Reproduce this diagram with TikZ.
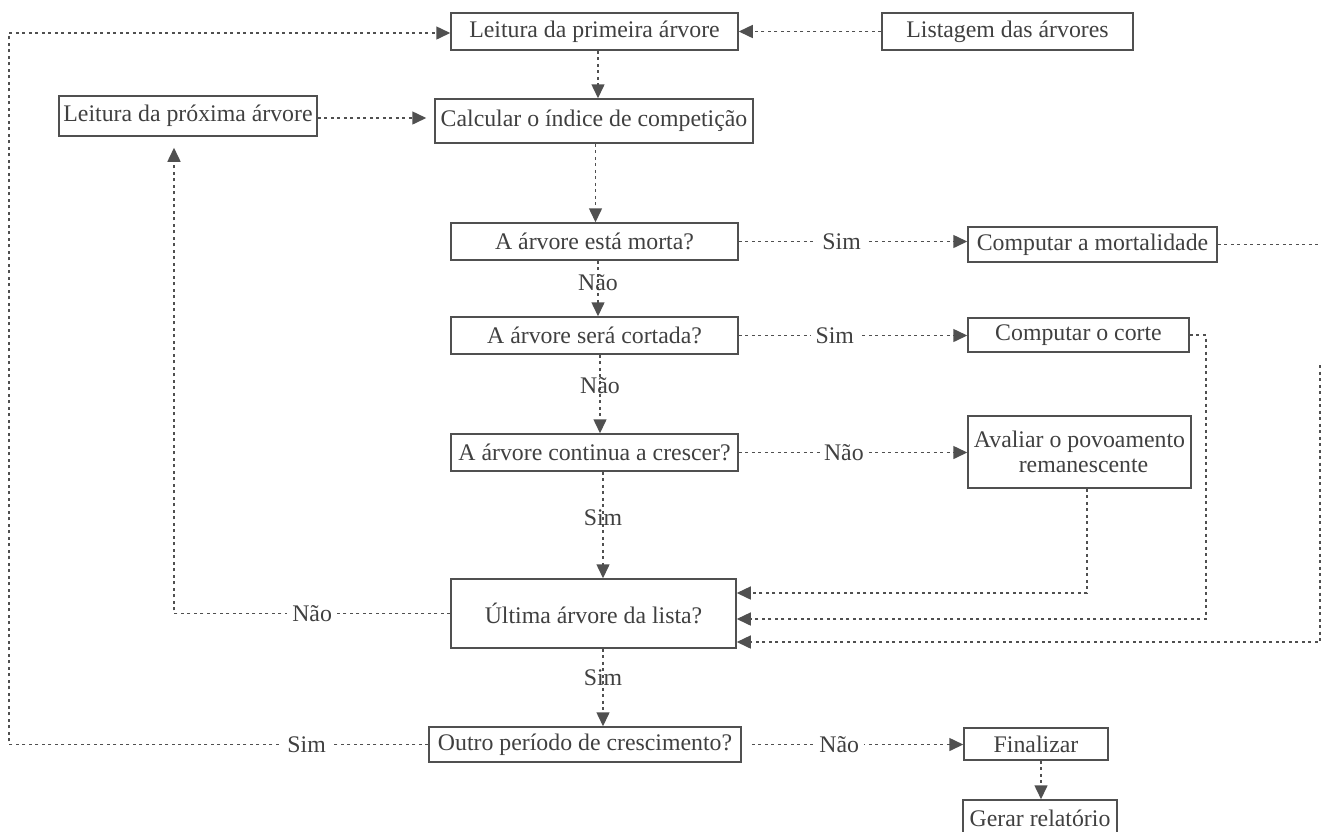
\documentclass[tikz,border=0pt]{standalone}
\usepackage{fontspec}
\setmainfont{Liberation Serif}
\usetikzlibrary{arrows.meta}
\definecolor{txt}{HTML}{404040}
\definecolor{ln}{HTML}{505050}
\begin{document}
\begin{tikzpicture}[x=1pt,y=-1pt,
  fnt/.style={font=\fontsize{23.8}{25}\selectfont, text=txt},
  box/.style={fnt, draw=ln, line width=1.5pt, inner sep=0pt, align=center},
  conn/.style={draw=ln, line width=1.5pt, dash pattern=on 3pt off 3.5pt, -{Triangle[length=14pt,width=13pt]}},
  plain/.style={draw=ln, line width=1.5pt, dash pattern=on 3pt off 3.5pt},
  lab/.style={fnt, fill=white, inner sep=5pt},
  vlab/.style={fnt, inner sep=1pt}]
\useasboundingbox (0,0) rectangle (1321,831);
\fill[white] (0,0) rectangle (1321,831);

\node[box, minimum width=287, minimum height=37] (prim) at (594.5,31.5) {Leitura da primeira árvore};
\node[box, minimum width=251, minimum height=37] (list) at (1007.5,31.5) {Listagem das árvores};
\node[box, minimum width=258, minimum height=40] (prox) at (188,116) {Leitura da próxima árvore};
\node[box, minimum width=318, minimum height=44] (calc) at (594,121) {Calcular o índice de competição};
\node[box, minimum width=287, minimum height=37] (morta) at (594.5,241.5) {A árvore está morta?};
\node[box, minimum width=249, minimum height=35] (mort) at (1092.5,244.5) {Computar a mortalidade};
\node[box, minimum width=287, minimum height=37] (cort) at (594.5,335.5) {A árvore será cortada?};
\node[box, minimum width=221, minimum height=34] (corte) at (1078.5,335) {Computar o corte};
\node[box, minimum width=287, minimum height=37] (cont) at (594.5,452.5) {A árvore continua a crescer?};
\node[box, minimum width=223, minimum height=72] (aval) at (1079.5,452) {Avaliar o povoamento\\\hspace*{8pt}remanescente};
\node[box, minimum width=285, minimum height=69] (ult) at (593.5,613.5) {Última árvore da lista?};
\node[box, minimum width=312, minimum height=35] (outro) at (585,744.5) {Outro período de crescimento?};
\node[box, minimum width=144, minimum height=32] (fin) at (1036,744) {Finalizar};
\node[box, minimum width=154, minimum height=36] (ger) at (1040,818) {Gerar relatório};

\coordinate (lcol) at (9,0);
\coordinate (mR) at (1320,244.5);
\coordinate (mR2) at (1320,365);

% main column
\draw[conn] (list.west) -- (prim.east);
\draw[conn] ([xshift=3.5]prim.south) -- ([xshift=3.5]prim.south |- calc.north);
\draw[conn, shorten >=8] ([yshift=-2]prox.east) -- ([yshift=-2]prox.east -| calc.west);
\draw[conn] ([xshift=1.5]calc.south) -- ([xshift=1.5]calc.south |- morta.north);
\draw[conn] ([xshift=3.5]morta.south) -- node[vlab, pos=0.39] {Não} ([xshift=3.5]morta.south |- cort.north);
\draw[conn] ([xshift=5.5]cort.south) -- node[vlab, pos=0.39] {Não} ([xshift=5.5]cort.south |- cont.north);
\draw[conn] ([xshift=8.5]cont.south) -- node[vlab, pos=0.43] {Sim} ([xshift=8.5]cont.south |- ult.north);
\draw[conn] ([xshift=9.5]ult.south) -- node[vlab, pos=0.38] {Sim} ([xshift=9.5]ult.south |- outro.north);

% right branches
\draw[conn] (morta.east) -- node[lab, pos=0.45] {Sim} (morta.east -| mort.west);
\draw[conn] (cort.east) -- node[lab, pos=0.42] {Sim} (cort.east -| corte.west);
\draw[conn] (cont.east) -- node[lab, pos=0.46, inner sep=1pt] {Não} (cont.east -| aval.west);

% returns to Última
\draw[plain] (mort.east) -- (mR);
\draw[conn] (mR2) |- ([yshift=-28.5]ult.east);
\draw[conn] (corte.east) -- ++(16,0) |- ([yshift=-5.5]ult.east);
\draw[conn] ([xshift=7.5]aval.south) |- ([yshift=20.5]ult.east);

% loops
\draw[conn, shorten >=11] (ult.west) -| node[lab, pos=0.25] {Não} ([xshift=-14]prox.south);
\draw[conn] (outro.west) -- node[lab, pos=0.29] {Sim} (outro.west -| lcol) |- ([yshift=-1.5]prim.west);

% end
\draw[conn, shorten <=10] (outro.east) -- node[lab, pos=0.44] {Não} (outro.east -| fin.west);
\draw[conn] ([xshift=5]fin.south) -- ([xshift=5]fin.south |- ger.north);
\end{tikzpicture}
\end{document}
